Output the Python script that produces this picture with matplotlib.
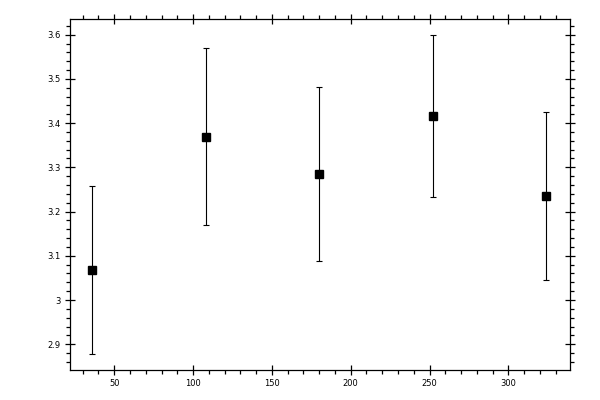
import numpy as np
import matplotlib.pyplot as plt
from matplotlib.ticker import MultipleLocator, FormatStrFormatter

x_vals = [36, 108, 180, 252, 324]
y_vals = [3.068, 3.369, 3.285, 3.416, 3.235]
y_err = [0.19, 0.20, 0.197, 0.183, 0.19]

fig = plt.figure(figsize=(6, 4), dpi=100)
ax = fig.add_axes([0.116, 0.0742, 0.8345, 0.8778])

ax.errorbar(x_vals, y_vals, yerr=y_err, fmt='s', color='black',
            markersize=5.2, elinewidth=0.8, capsize=2.2, capthick=0.8)

ax.set_xlim(21.7, 339.3)
ax.set_ylim(2.841, 3.635)

ax.xaxis.set_major_locator(MultipleLocator(50))
ax.xaxis.set_minor_locator(MultipleLocator(10))
ax.yaxis.set_major_locator(MultipleLocator(0.1))
ax.yaxis.set_minor_locator(MultipleLocator(0.02))
ax.yaxis.set_major_formatter(plt.FuncFormatter(lambda v, p: f'{v:g}'))

ax.tick_params(which='major', direction='inout', length=7, width=0.9,
               top=True, right=True, labelsize=6, pad=3)
ax.tick_params(which='minor', direction='out', length=3, width=0.9,
               top=True, right=True)
for s in ax.spines.values():
    s.set_linewidth(0.9)

fig.savefig('out.png', dpi=100)
